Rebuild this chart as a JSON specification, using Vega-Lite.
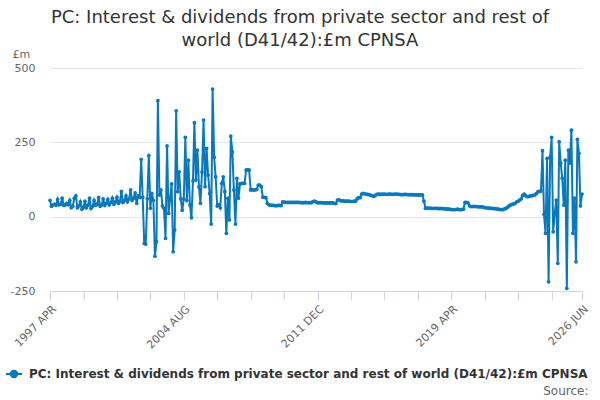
{
  "$schema": "https://vega.github.io/schema/vega-lite/v6.json",
  "width": 532,
  "height": 223,
  "autosize": "none",
  "padding": {"left": 50, "top": 68, "right": 18, "bottom": 109},
  "config": {
    "font": "DejaVu Sans",
    "view": {"stroke": null}
  },
  "title": {
    "text": ["PC: Interest & dividends from private sector and rest of", "world (D41/42):£m CPNSA"],
    "fontSize": 18,
    "fontWeight": "normal",
    "color": "#333333",
    "anchor": "middle",
    "frame": "group",
    "dx": -16,
    "offset": -2,
    "lineHeight": 23
  },
  "data": {
    "values": [
      {"date": "1997-04", "value": 55}, {"date": "1997-05", "value": 35}, {"date": "1997-06", "value": 40},
      {"date": "1997-07", "value": 42}, {"date": "1997-08", "value": 38}, {"date": "1997-09", "value": 58},
      {"date": "1997-10", "value": 40}, {"date": "1997-11", "value": 42}, {"date": "1997-12", "value": 62},
      {"date": "1998-01", "value": 38}, {"date": "1998-02", "value": 40}, {"date": "1998-03", "value": 45},
      {"date": "1998-04", "value": 40}, {"date": "1998-05", "value": 55}, {"date": "1998-06", "value": 30},
      {"date": "1998-07", "value": 35}, {"date": "1998-08", "value": 62}, {"date": "1998-09", "value": 70},
      {"date": "1998-10", "value": 30}, {"date": "1998-11", "value": 36}, {"date": "1998-12", "value": 50},
      {"date": "1999-01", "value": 25}, {"date": "1999-02", "value": 32}, {"date": "1999-03", "value": 52},
      {"date": "1999-04", "value": 30}, {"date": "1999-05", "value": 38}, {"date": "1999-06", "value": 62},
      {"date": "1999-07", "value": 28}, {"date": "1999-08", "value": 35}, {"date": "1999-09", "value": 55},
      {"date": "1999-10", "value": 38}, {"date": "1999-11", "value": 42}, {"date": "1999-12", "value": 65},
      {"date": "2000-01", "value": 35}, {"date": "2000-02", "value": 40}, {"date": "2000-03", "value": 60},
      {"date": "2000-04", "value": 38}, {"date": "2000-05", "value": 45}, {"date": "2000-06", "value": 58},
      {"date": "2000-07", "value": 40}, {"date": "2000-08", "value": 48}, {"date": "2000-09", "value": 62},
      {"date": "2000-10", "value": 42}, {"date": "2000-11", "value": 50}, {"date": "2000-12", "value": 65},
      {"date": "2001-01", "value": 45}, {"date": "2001-02", "value": 52}, {"date": "2001-03", "value": 85},
      {"date": "2001-04", "value": 48}, {"date": "2001-05", "value": 55}, {"date": "2001-06", "value": 70},
      {"date": "2001-07", "value": 50}, {"date": "2001-08", "value": 60}, {"date": "2001-09", "value": 90},
      {"date": "2001-10", "value": 55}, {"date": "2001-11", "value": 62}, {"date": "2001-12", "value": 80},
      {"date": "2002-01", "value": 45}, {"date": "2002-02", "value": 70}, {"date": "2002-03", "value": 65},
      {"date": "2002-04", "value": 193}, {"date": "2002-05", "value": 65}, {"date": "2002-06", "value": -90},
      {"date": "2002-07", "value": -92}, {"date": "2002-08", "value": 60}, {"date": "2002-09", "value": 206},
      {"date": "2002-10", "value": 28}, {"date": "2002-11", "value": 78}, {"date": "2002-12", "value": 55},
      {"date": "2003-01", "value": -133}, {"date": "2003-02", "value": -84}, {"date": "2003-03", "value": 390},
      {"date": "2003-04", "value": 73}, {"date": "2003-05", "value": 90}, {"date": "2003-06", "value": 36},
      {"date": "2003-07", "value": 28}, {"date": "2003-08", "value": -73}, {"date": "2003-09", "value": 238},
      {"date": "2003-10", "value": 11}, {"date": "2003-11", "value": 60}, {"date": "2003-12", "value": 110},
      {"date": "2004-01", "value": -118}, {"date": "2004-02", "value": -45}, {"date": "2004-03", "value": 356},
      {"date": "2004-04", "value": 84}, {"date": "2004-05", "value": 151}, {"date": "2004-06", "value": 60},
      {"date": "2004-07", "value": 22}, {"date": "2004-08", "value": 60}, {"date": "2004-09", "value": 267},
      {"date": "2004-10", "value": 54}, {"date": "2004-11", "value": 190}, {"date": "2004-12", "value": 40},
      {"date": "2005-01", "value": -4}, {"date": "2005-02", "value": 120}, {"date": "2005-03", "value": 316},
      {"date": "2005-04", "value": 123}, {"date": "2005-05", "value": 224}, {"date": "2005-06", "value": 100},
      {"date": "2005-07", "value": 45}, {"date": "2005-08", "value": 150}, {"date": "2005-09", "value": 325},
      {"date": "2005-10", "value": 101}, {"date": "2005-11", "value": 230}, {"date": "2005-12", "value": 140},
      {"date": "2006-01", "value": 78}, {"date": "2006-02", "value": -25}, {"date": "2006-03", "value": 429},
      {"date": "2006-04", "value": 200}, {"date": "2006-05", "value": 134}, {"date": "2006-06", "value": 36},
      {"date": "2006-07", "value": 40}, {"date": "2006-08", "value": 30}, {"date": "2006-09", "value": 112},
      {"date": "2006-10", "value": 134}, {"date": "2006-11", "value": 84}, {"date": "2006-12", "value": -56},
      {"date": "2007-01", "value": 62}, {"date": "2007-02", "value": -11}, {"date": "2007-03", "value": 271},
      {"date": "2007-04", "value": 218}, {"date": "2007-05", "value": 90}, {"date": "2007-06", "value": -25},
      {"date": "2007-07", "value": 129}, {"date": "2007-08", "value": 62}, {"date": "2007-09", "value": 110},
      {"date": "2007-10", "value": 112}, {"date": "2007-11", "value": 112}, {"date": "2007-12", "value": 112},
      {"date": "2008-01", "value": 157}, {"date": "2008-02", "value": 157}, {"date": "2008-03", "value": 157},
      {"date": "2008-04", "value": 90}, {"date": "2008-05", "value": 90}, {"date": "2008-06", "value": 90},
      {"date": "2008-07", "value": 90}, {"date": "2008-08", "value": 92}, {"date": "2008-09", "value": 106},
      {"date": "2008-10", "value": 106}, {"date": "2008-11", "value": 101}, {"date": "2008-12", "value": 65},
      {"date": "2009-01", "value": 65}, {"date": "2009-02", "value": 64}, {"date": "2009-03", "value": 45},
      {"date": "2009-04", "value": 40}, {"date": "2009-05", "value": 39}, {"date": "2009-06", "value": 38},
      {"date": "2009-07", "value": 38}, {"date": "2009-08", "value": 37}, {"date": "2009-09", "value": 37},
      {"date": "2009-10", "value": 38}, {"date": "2009-11", "value": 38}, {"date": "2009-12", "value": 37},
      {"date": "2010-01", "value": 50}, {"date": "2010-02", "value": 49}, {"date": "2010-03", "value": 48},
      {"date": "2010-04", "value": 48}, {"date": "2010-05", "value": 48}, {"date": "2010-06", "value": 48},
      {"date": "2010-07", "value": 48}, {"date": "2010-08", "value": 48}, {"date": "2010-09", "value": 48},
      {"date": "2010-10", "value": 48}, {"date": "2010-11", "value": 48}, {"date": "2010-12", "value": 48},
      {"date": "2011-01", "value": 47}, {"date": "2011-02", "value": 47}, {"date": "2011-03", "value": 47},
      {"date": "2011-04", "value": 48}, {"date": "2011-05", "value": 47}, {"date": "2011-06", "value": 47},
      {"date": "2011-07", "value": 47}, {"date": "2011-08", "value": 47}, {"date": "2011-09", "value": 51},
      {"date": "2011-10", "value": 52}, {"date": "2011-11", "value": 50}, {"date": "2011-12", "value": 47},
      {"date": "2012-01", "value": 47}, {"date": "2012-02", "value": 47}, {"date": "2012-03", "value": 47},
      {"date": "2012-04", "value": 46}, {"date": "2012-05", "value": 46}, {"date": "2012-06", "value": 46},
      {"date": "2012-07", "value": 46}, {"date": "2012-08", "value": 46}, {"date": "2012-09", "value": 46},
      {"date": "2012-10", "value": 46}, {"date": "2012-11", "value": 45}, {"date": "2012-12", "value": 44},
      {"date": "2013-01", "value": 56}, {"date": "2013-02", "value": 57}, {"date": "2013-03", "value": 54},
      {"date": "2013-04", "value": 53}, {"date": "2013-05", "value": 53}, {"date": "2013-06", "value": 52},
      {"date": "2013-07", "value": 52}, {"date": "2013-08", "value": 52}, {"date": "2013-09", "value": 52},
      {"date": "2013-10", "value": 51}, {"date": "2013-11", "value": 51}, {"date": "2013-12", "value": 52},
      {"date": "2014-01", "value": 52}, {"date": "2014-02", "value": 60}, {"date": "2014-03", "value": 64},
      {"date": "2014-04", "value": 64}, {"date": "2014-05", "value": 76}, {"date": "2014-06", "value": 78},
      {"date": "2014-07", "value": 77}, {"date": "2014-08", "value": 76}, {"date": "2014-09", "value": 75},
      {"date": "2014-10", "value": 74}, {"date": "2014-11", "value": 72}, {"date": "2014-12", "value": 70},
      {"date": "2015-01", "value": 68}, {"date": "2015-02", "value": 72}, {"date": "2015-03", "value": 75},
      {"date": "2015-04", "value": 76}, {"date": "2015-05", "value": 76}, {"date": "2015-06", "value": 75},
      {"date": "2015-07", "value": 76}, {"date": "2015-08", "value": 76}, {"date": "2015-09", "value": 75},
      {"date": "2015-10", "value": 75}, {"date": "2015-11", "value": 76}, {"date": "2015-12", "value": 76},
      {"date": "2016-01", "value": 75}, {"date": "2016-02", "value": 75}, {"date": "2016-03", "value": 76},
      {"date": "2016-04", "value": 76}, {"date": "2016-05", "value": 75}, {"date": "2016-06", "value": 75},
      {"date": "2016-07", "value": 74}, {"date": "2016-08", "value": 74}, {"date": "2016-09", "value": 75},
      {"date": "2016-10", "value": 75}, {"date": "2016-11", "value": 74}, {"date": "2016-12", "value": 74},
      {"date": "2017-01", "value": 74}, {"date": "2017-02", "value": 74}, {"date": "2017-03", "value": 74},
      {"date": "2017-04", "value": 73}, {"date": "2017-05", "value": 73}, {"date": "2017-06", "value": 73},
      {"date": "2017-07", "value": 73}, {"date": "2017-08", "value": 73}, {"date": "2017-09", "value": 73},
      {"date": "2017-10", "value": 52}, {"date": "2017-11", "value": 28}, {"date": "2017-12", "value": 29},
      {"date": "2018-01", "value": 29}, {"date": "2018-02", "value": 29}, {"date": "2018-03", "value": 28},
      {"date": "2018-04", "value": 28}, {"date": "2018-05", "value": 28}, {"date": "2018-06", "value": 28},
      {"date": "2018-07", "value": 28}, {"date": "2018-08", "value": 27}, {"date": "2018-09", "value": 28},
      {"date": "2018-10", "value": 27}, {"date": "2018-11", "value": 27}, {"date": "2018-12", "value": 26},
      {"date": "2019-01", "value": 26}, {"date": "2019-02", "value": 25}, {"date": "2019-03", "value": 25},
      {"date": "2019-04", "value": 24}, {"date": "2019-05", "value": 24}, {"date": "2019-06", "value": 24},
      {"date": "2019-07", "value": 24}, {"date": "2019-08", "value": 25}, {"date": "2019-09", "value": 24},
      {"date": "2019-10", "value": 24}, {"date": "2019-11", "value": 24}, {"date": "2019-12", "value": 25},
      {"date": "2020-01", "value": 48}, {"date": "2020-02", "value": 48}, {"date": "2020-03", "value": 46},
      {"date": "2020-04", "value": 36}, {"date": "2020-05", "value": 34}, {"date": "2020-06", "value": 34},
      {"date": "2020-07", "value": 35}, {"date": "2020-08", "value": 34}, {"date": "2020-09", "value": 34},
      {"date": "2020-10", "value": 33}, {"date": "2020-11", "value": 33}, {"date": "2020-12", "value": 33},
      {"date": "2021-01", "value": 32}, {"date": "2021-02", "value": 30}, {"date": "2021-03", "value": 30},
      {"date": "2021-04", "value": 29}, {"date": "2021-05", "value": 29}, {"date": "2021-06", "value": 28},
      {"date": "2021-07", "value": 28}, {"date": "2021-08", "value": 27}, {"date": "2021-09", "value": 27},
      {"date": "2021-10", "value": 26}, {"date": "2021-11", "value": 25}, {"date": "2021-12", "value": 24},
      {"date": "2022-01", "value": 24}, {"date": "2022-02", "value": 24}, {"date": "2022-03", "value": 26},
      {"date": "2022-04", "value": 28}, {"date": "2022-05", "value": 32}, {"date": "2022-06", "value": 36},
      {"date": "2022-07", "value": 39}, {"date": "2022-08", "value": 41}, {"date": "2022-09", "value": 43},
      {"date": "2022-10", "value": 45}, {"date": "2022-11", "value": 50}, {"date": "2022-12", "value": 52},
      {"date": "2023-01", "value": 56}, {"date": "2023-02", "value": 60}, {"date": "2023-03", "value": 72},
      {"date": "2023-04", "value": 76}, {"date": "2023-05", "value": 70}, {"date": "2023-06", "value": 67},
      {"date": "2023-07", "value": 68}, {"date": "2023-08", "value": 70}, {"date": "2023-09", "value": 70},
      {"date": "2023-10", "value": 72}, {"date": "2023-11", "value": 73}, {"date": "2023-12", "value": 78},
      {"date": "2024-01", "value": 84}, {"date": "2024-02", "value": 85}, {"date": "2024-03", "value": 86},
      {"date": "2024-04", "value": 222}, {"date": "2024-05", "value": 8}, {"date": "2024-06", "value": -56},
      {"date": "2024-07", "value": 196}, {"date": "2024-08", "value": -219}, {"date": "2024-09", "value": 200},
      {"date": "2024-10", "value": 267}, {"date": "2024-11", "value": -51}, {"date": "2024-12", "value": 10},
      {"date": "2025-01", "value": 56}, {"date": "2025-02", "value": -157}, {"date": "2025-03", "value": 252},
      {"date": "2025-04", "value": 180}, {"date": "2025-05", "value": 129}, {"date": "2025-06", "value": 39},
      {"date": "2025-07", "value": 190}, {"date": "2025-08", "value": -241}, {"date": "2025-09", "value": 224},
      {"date": "2025-10", "value": 180}, {"date": "2025-11", "value": 291}, {"date": "2025-12", "value": -56},
      {"date": "2026-01", "value": 62}, {"date": "2026-02", "value": -152}, {"date": "2026-03", "value": 260},
      {"date": "2026-04", "value": 213}, {"date": "2026-05", "value": 36}, {"date": "2026-06", "value": 76}
    ]
  },
  "mark": {
    "type": "line",
    "strokeWidth": 2,
    "point": {"filled": true, "size": 14}
  },
  "encoding": {
    "x": {
      "field": "date",
      "type": "temporal",
      "scale": {"type": "utc"},
      "axis": {
        "title": "Source:",
        "titleAlign": "right",
        "titleAnchor": null,
        "titleX": 538,
        "titleY": 103,
        "titleBaseline": "alphabetic",
        "titleColor": "#666666",
        "titleFontSize": 12,
        "titleFontWeight": "normal",
        "values": [
          {"year": 1997, "month": 4, "utc": true}, {"year": 1999, "month": 2, "utc": true},
          {"year": 2000, "month": 12, "utc": true}, {"year": 2002, "month": 10, "utc": true},
          {"year": 2004, "month": 8, "utc": true}, {"year": 2006, "month": 6, "utc": true},
          {"year": 2008, "month": 4, "utc": true}, {"year": 2010, "month": 2, "utc": true},
          {"year": 2011, "month": 12, "utc": true}, {"year": 2013, "month": 10, "utc": true},
          {"year": 2015, "month": 8, "utc": true}, {"year": 2017, "month": 6, "utc": true},
          {"year": 2019, "month": 4, "utc": true}, {"year": 2021, "month": 2, "utc": true},
          {"year": 2022, "month": 12, "utc": true}, {"year": 2024, "month": 10, "utc": true},
          {"year": 2026, "month": 6, "utc": true}
        ],
        "labelExpr": "indexof(['1997-04','2004-08','2011-12','2019-04','2026-06'], utcFormat(datum.value, '%Y-%m')) >= 0 ? upper(utcFormat(datum.value, '%Y %b')) : ''",
        "labelAngle": -45,
        "labelAlign": "right",
        "labelBaseline": "top",
        "labelPadding": 3,
        "labelFontSize": 11,
        "labelColor": "#666666",
        "labelOverlap": false,
        "labelFlush": false,
        "domainColor": "#ccd6eb",
        "tickColor": "#ccd6eb",
        "tickSize": 9,
        "grid": false
      }
    },
    "y": {
      "field": "value",
      "type": "quantitative",
      "scale": {"domain": [-250, 500], "nice": false, "zero": false},
      "axis": {
        "title": "£m",
        "titleAngle": 0,
        "titleAlign": "left",
        "titleAnchor": null,
        "titleBaseline": "alphabetic",
        "titleX": -38,
        "titleY": -11,
        "titleFontSize": 11,
        "titleFontWeight": "normal",
        "titleColor": "#666666",
        "values": [-250, 0, 250, 500],
        "labelExpr": "'' + datum.value",
        "labelFontSize": 11,
        "labelColor": "#666666",
        "labelPadding": 15,
        "ticks": false,
        "tickSize": 0,
        "domain": false,
        "gridColor": "#e6e6e6"
      }
    },
    "color": {
      "datum": "PC: Interest & dividends from private sector and rest of world (D41/42):£m CPNSA",
      "type": "nominal",
      "scale": {"range": ["#0a78bd"]},
      "legend": {
        "title": null,
        "orient": "none",
        "legendX": -45,
        "legendY": 297,
        "symbolType": "M-1,0L1,0M-0.4,0A0.4,0.4,0,1,0,0.4,0A0.4,0.4,0,1,0,-0.4,0",
        "symbolSize": 256,
        "symbolStrokeWidth": 2,
        "symbolFillColor": "#0a78bd",
        "labelFontSize": 12,
        "labelFontWeight": "bold",
        "labelColor": "#333333",
        "labelLimit": 700,
        "labelOffset": 6
      }
    }
  }
}
